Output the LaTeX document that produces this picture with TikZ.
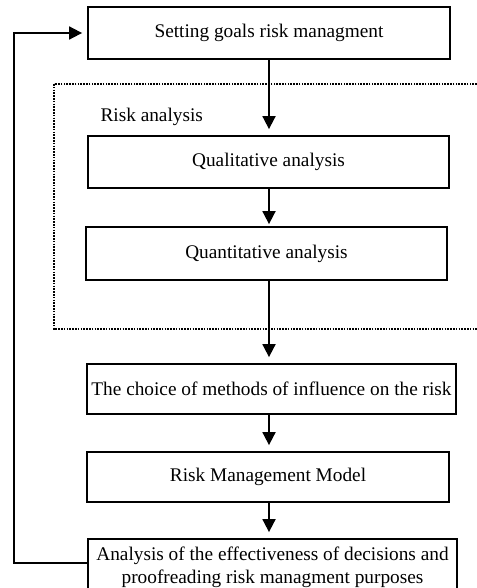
\documentclass[tikz,border=0pt]{standalone}
\usepackage{fontspec}
\setmainfont{Liberation Serif}
\usetikzlibrary{arrows.meta}
\tikzset{
	blok/.style={draw,line width=1.8pt,minimum height=52pt,inner sep=0pt,align=center},
	pijl/.style={-{Triangle[length=13pt,width=13pt]},line width=1.8pt,shorten >=6pt}
}
\begin{document}
\begin{tikzpicture}[x=1pt,y=-1pt,font=\fontsize{19.3}{23}\selectfont]
		\useasboundingbox (0,0) rectangle (476,588);
		\path
		(269,33) coordinate (G)
		(268.5,162) coordinate (QL)
		(266.5,253.5) coordinate (QN)
		(271.5,389) coordinate (CH)
		(268,477) coordinate (RM)
		(272.5,567) coordinate (AN)
		(14,563) coordinate (L)
		;
		\draw[line width=1.4pt,dash pattern=on 1.6pt off 1.2pt]
		(54,84) rectangle (495,329);
		\node[anchor=west] (risk) at (97,117) {Risk analysis};
		\node[blok,minimum width=362pt] (goals) at (G) {Setting goals risk managment};
		\node[blok,minimum width=361pt] (qual) at (QL) {Qualitative analysis};
		\node[blok,minimum width=361pt,minimum height=53pt] (quant) at (QN) {Quantitative analysis};
		\node[blok,minimum width=369pt,minimum height=50pt] (choice) at (CH) {The choice of methods of influence on the risk};
		\node[blok,minimum width=362pt,minimum height=50pt] (model) at (RM) {Risk Management Model};
		\node[blok,minimum width=369pt,minimum height=56pt] (eff) at (AN) {Analysis of the effectiveness of decisions and\\proofreading risk managment purposes};
		\draw[pijl]
		(goals.south) -- (goals.south |- qual.north);
		\draw[pijl,shorten >=2pt]
		(goals.south |- qual.south) -- (goals.south |- quant.north);
		\draw[pijl]
		(goals.south |- quant.south) -- (goals.south |- choice.north);
		\draw[pijl]
		(goals.south |- choice.south) -- (goals.south |- model.north);
		\draw[pijl]
		(goals.south |- model.south) -- (goals.south |- eff.north);
		\draw[pijl,shorten >=5pt]
		(eff.west |- L) -- (L) |- (goals.west);
	
\end{tikzpicture}
\end{document}
